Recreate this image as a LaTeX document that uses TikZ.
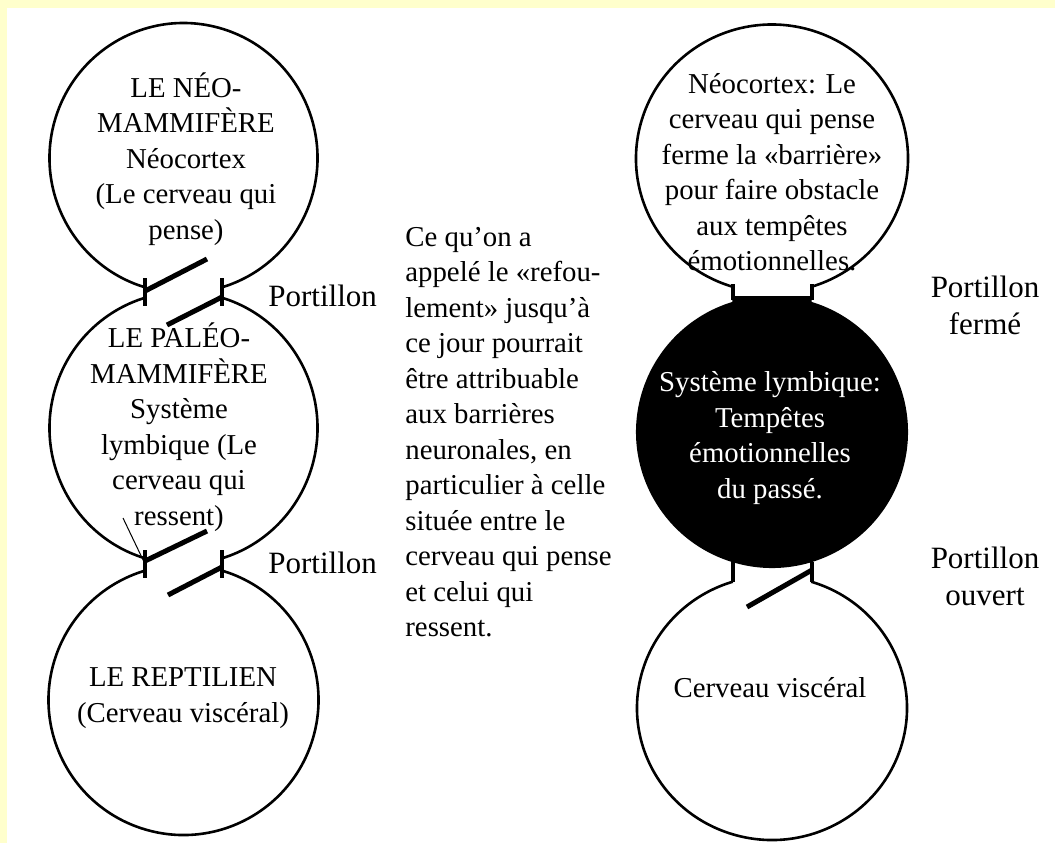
\documentclass[tikz,border=0pt]{standalone}
\usepackage{fontspec}
\setmainfont{Liberation Serif}
\definecolor{paleyellow}{HTML}{FFFFCC}
\begin{document}
\begin{tikzpicture}[x=0.5pt,y=-0.5pt,
  brain/.style={line width=1.3pt},
  post/.style={line width=2pt},
  door/.style={line width=2.5pt},
  txt/.style={font=\fontsize{14.4}{17.75}\selectfont,align=center,inner sep=0pt},
  gatetxt/.style={font=\fontsize{15.5}{18.5}\selectfont,align=center,inner sep=0pt}]
\fill[paleyellow] (0,0) rectangle (1055,843);
\fill[white] (7,8) rectangle (1055,843);
\useasboundingbox (0,0) rectangle (1055,843);

\coordinate (neoc) at (183.5,158);
\coordinate (paleoc) at (183.5,428);
\coordinate (reptc) at (183.5,700);
\draw[brain] ([shift={(106.5:134 and 135)}]neoc) arc[start angle=106.5,end angle=433.5,x radius=134,y radius=135];
\draw[brain] ([shift={(-73.5:134 and 136)}]paleoc) arc[start angle=-73.5,end angle=73.5,x radius=134,y radius=136];
\draw[brain] ([shift={(106.5:134 and 136)}]paleoc) arc[start angle=106.5,end angle=253.5,x radius=134,y radius=136];
\draw[brain] ([shift={(-73.5:135 and 135)}]reptc) arc[start angle=-73.5,end angle=253.5,x radius=135,y radius=135];

\coordinate (g1l) at (145,292);
\coordinate (g1r) at (222,292);
\coordinate (g2l) at (145,564);
\coordinate (g2r) at (222,564);
\draw[post] (g1l) ++(0,-14) -- ++(0,28);
\draw[post] (g1r) ++(0,-14) -- ++(0,28);
\draw[post] (g2l) ++(0,-14) -- ++(0,28);
\draw[post] (g2r) ++(0,-14) -- ++(0,28);
\draw[door] (g1l) ++(0,-1) -- ++(62,-32);
\draw[door] (g1r) ++(0,5) -- ++(-55,28);
\draw[door] (g2l) ++(0,-3) -- ++(62,-30);
\draw[door] (g2r) ++(0,3) -- ++(-54,28);
\draw[line width=0.5pt] (123,518) -- (g2l);

\node[txt] (neotxt) at (186,159) {LE NÉO-\\MAMMIFÈRE\\Néocortex\\(Le cerveau qui\\pense)};
\node[txt] (paleotxt) at (179,427) {LE PALÉO-\\MAMMIFÈRE\\Système\\lymbique (Le\\cerveau qui\\ressent)};
\node[txt] (repttxt) at (183,698) {LE REPTILIEN\\(Cerveau viscéral)};
\node[gatetxt,anchor=west] (port1) at (268,296) {Portillon};
\node[gatetxt,anchor=west] (port2) at (268,563) {Portillon};

\node[txt,align=left,anchor=west] (note) at (405,432) {Ce qu'on a\\appelé le «refou-\\lement» jusqu'à\\ce jour pourrait\\être attribuable\\aux barrières\\neuronales, en\\particulier à celle\\située entre le\\cerveau qui pense\\et celui qui\\ressent.};

\coordinate (ncxc) at (772,158.5);
\coordinate (limbc) at (772,432);
\coordinate (viscc) at (772,708);
\draw[brain] ([shift={(106.9:136 and 134)}]ncxc) arc[start angle=106.9,end angle=433.1,x radius=136,y radius=134];
\fill ([shift={(-73.1:136 and 136)}]limbc) arc[start angle=-73.1,end angle=253.1,x radius=136,y radius=136] -- (732.5,296) -- (811.5,296) -- cycle;
\draw[brain] ([shift={(-73.1:135 and 132)}]viscc) arc[start angle=-73.1,end angle=253.1,x radius=135,y radius=132];

\coordinate (g3l) at (733,293);
\coordinate (g3r) at (812,293);
\coordinate (g4l) at (733,572);
\coordinate (g4r) at (812,572);
\draw[post] (g3l) ++(0,-9) -- ++(0,16);
\draw[post] (g3r) ++(0,-9) -- ++(0,16);
\draw[post] (g4l) ++(0,-10) -- ++(0,20);
\draw[post] (g4r) ++(0,-10) -- ++(0,20);
\draw[door] (g4r) ++(0,-2) -- ++(-65,37);

\node[txt] (ncxtxt) at (772,172) {Néocortex: Le\\cerveau qui pense\\ferme la «barrière»\\pour faire obstacle\\aux tempêtes\\émotionnelles.};
\node[txt,text=white] (limbtxt) at (770,438) {Système lymbique:\\Tempêtes\\émotionnelles\\du passé.};
\node[txt] (visctxt) at (770,688) {Cerveau viscéral};
\node[gatetxt] (portf) at (985,305) {Portillon\\fermé};
\node[gatetxt] (porto) at (985,576) {Portillon\\ouvert};
\end{tikzpicture}
\end{document}
